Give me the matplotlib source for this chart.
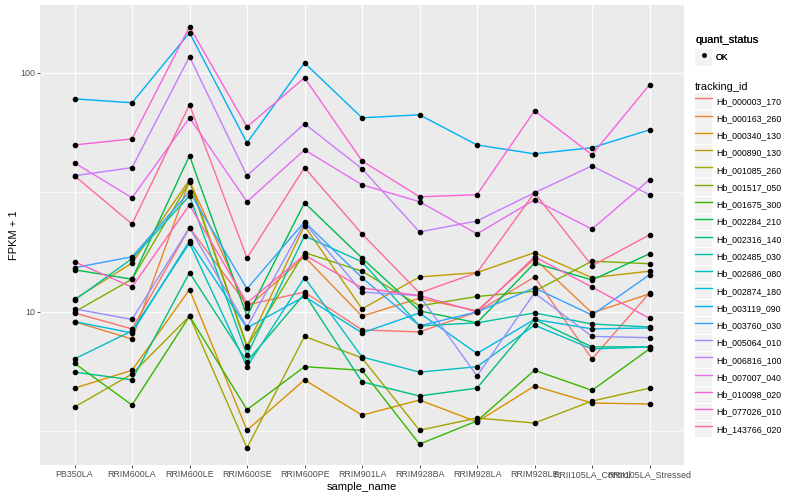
import matplotlib
matplotlib.use('Agg')
import matplotlib.pyplot as plt
from matplotlib.patches import Rectangle
from matplotlib.lines import Line2D

plt.rcParams['font.family'] = ['Liberation Sans', 'DejaVu Sans']

# samples on the x axis
samples = ['PB350LA', 'RRIM600LA', 'RRIM600LE', 'RRIM600SE', 'RRIM600PE', 'RRIM901LA',
           'RRIM928BA', 'RRIM928LA', 'RRIM928LE', 'RRII105LA_Control', 'RRII105LA_Stressed']

tracking_ids = ['Hb_000003_170', 'Hb_000163_260', 'Hb_000340_130', 'Hb_000890_130', 'Hb_001085_260',
                'Hb_001517_050', 'Hb_001675_300', 'Hb_002284_210', 'Hb_002316_140', 'Hb_002485_030',
                'Hb_002686_080', 'Hb_002874_180', 'Hb_003119_090', 'Hb_003760_030', 'Hb_005064_010',
                'Hb_006816_100', 'Hb_007007_040', 'Hb_010098_020', 'Hb_077026_010', 'Hb_143766_020']

# ggplot hue palette, 20 levels
colors = ['#F8766D', '#EA8331', '#D89000', '#C09B00', '#A3A500', '#7CAE00', '#39B600', '#00BB4E',
          '#00BF7D', '#00C1A3', '#00BFC4', '#00BAE0', '#00B0F6', '#35A2FF', '#9590FF', '#C77CFF',
          '#E76BF3', '#FA62DB', '#FF62BC', '#FF6C91']

# FPKM + 1 per gene
hb_000003_170 = [9.9, 8.49, 22.5, 10.7, 12.1, 8.41, 8.25, 10.0, 14.0, 6.36, 12.0]
hb_000163_260 = [9.1, 7.7, 35.3, 10.4, 17.0, 9.6, 11.4, 10.1, 16.7, 9.9, 11.9]
hb_000340_130 = [4.8, 5.7, 12.4, 3.2, 5.2, 3.7, 4.28, 3.47, 4.9, 4.16, 4.12]
hb_000890_130 = [11.3, 16.0, 35.7, 7.2, 22.9, 10.3, 14.0, 14.6, 17.7, 13.9, 14.8]
hb_001085_260 = [4.0, 5.5, 9.6, 2.7, 7.9, 6.42, 3.2, 3.6, 3.43, 4.24, 4.8]
hb_001517_050 = [10.0, 13.7, 35.0, 7.14, 17.7, 14.8, 10.6, 11.6, 12.2, 16.3, 15.9]
hb_001675_300 = [6.1, 4.08, 9.6, 3.9, 5.9, 5.7, 2.8, 3.5, 5.7, 4.7, 7.0]
hb_002284_210 = [15.0, 13.7, 45.0, 9.6, 28.6, 16.8, 10.1, 9.0, 16.0, 13.6, 17.5]
hb_002316_140 = [5.6, 5.2, 14.6, 6.2, 11.9, 5.1, 4.45, 4.8, 9.3, 7.14, 7.14]
hb_002485_030 = [11.2, 16.7, 30.6, 6.6, 20.8, 16.2, 8.74, 9.0, 9.9, 8.9, 8.65]
hb_002686_080 = [6.36, 8.33, 19.4, 5.9, 13.9, 6.48, 5.6, 5.9, 8.8, 7.0, 7.14]
hb_002874_180 = [9.1, 8.17, 19.8, 8.57, 11.6, 8.17, 9.9, 6.7, 9.3, 8.49, 8.57]
hb_003119_090 = [77.8, 74.9, 147.0, 50.9, 110.0, 64.8, 66.7, 49.9, 45.8, 48.6, 57.7]
hb_003760_030 = [15.3, 17.0, 31.8, 12.5, 23.8, 13.9, 8.74, 10.0, 12.6, 9.7, 14.3]
hb_005064_010 = [10.3, 9.3, 22.5, 8.65, 23.6, 12.1, 11.7, 5.4, 12.0, 7.9, 7.8]
hb_006816_100 = [37.1, 40.1, 116.7, 37.1, 61.2, 39.7, 21.6, 24.0, 31.5, 40.8, 30.9]
hb_007007_040 = [42.0, 30.0, 64.8, 28.9, 47.6, 34.0, 28.9, 21.2, 29.4, 22.2, 35.7]
hb_010098_020 = [49.9, 52.9, 155.8, 59.4, 95.3, 42.8, 30.3, 30.9, 69.3, 45.4, 89.1]
hb_077026_010 = [16.2, 12.7, 28.0, 10.9, 17.3, 12.6, 11.7, 10.0, 17.0, 12.7, 9.4]
hb_143766_020 = [37.1, 23.3, 73.5, 16.8, 40.1, 21.2, 12.0, 14.6, 31.5, 15.6, 21.0]

series = [hb_000003_170, hb_000163_260, hb_000340_130, hb_000890_130, hb_001085_260,
          hb_001517_050, hb_001675_300, hb_002284_210, hb_002316_140, hb_002485_030,
          hb_002686_080, hb_002874_180, hb_003119_090, hb_003760_030, hb_005064_010,
          hb_006816_100, hb_007007_040, hb_010098_020, hb_077026_010, hb_143766_020]

fig = plt.figure(figsize=(8, 5), dpi=100)
ax = fig.add_axes([0.05, 0.07, 0.805, 0.92])
ax.set_facecolor('#EBEBEB')
for s in ax.spines.values():
    s.set_visible(False)

x = list(range(len(samples)))
for vals, c in zip(series, colors):
    ax.plot(x, vals, color=c, linewidth=1.0, zorder=3)
for vals in series:
    ax.plot(x, vals, linestyle='none', marker='o', markersize=3, color='black', zorder=4)

ax.set_yscale('log')
ax.set_ylim(2.29, 192)
ax.set_xlim(-0.6, 10.6)
ax.set_xticks(x)
ax.set_xticklabels(samples)
ax.set_yticks([10, 100])
ax.set_yticklabels(['10', '100'])
ax.set_yticks([10 ** 0.5, 10 ** 1.5], minor=True)
ax.yaxis.set_minor_formatter(plt.NullFormatter())
ax.tick_params(axis='both', which='major', length=2, width=0.6, color='#333333',
               labelsize=6.4, labelcolor='#4D4D4D', pad=1.5)
ax.tick_params(axis='y', which='minor', length=0)
ax.grid(True, which='major', color='white', linewidth=0.9, zorder=0)
ax.grid(True, which='minor', axis='y', color='white', linewidth=0.45, zorder=0)
ax.set_axisbelow(True)

ax.set_xlabel('sample_name', fontsize=8, labelpad=2)
ax.set_ylabel('FPKM + 1', fontsize=8, labelpad=1)

# legends (grey key boxes like ggplot)
ok_handle = (Rectangle((0, 0), 1, 1, facecolor='#F2F2F2', edgecolor='none'),
             Line2D([], [], linestyle='none', marker='o', markersize=2.5, color='black'))
leg1 = fig.legend([ok_handle], ['OK'], title='quant_status', loc='upper left',
                  bbox_to_anchor=(0.869, 0.93), frameon=False, fontsize=6.3,
                  title_fontsize=7.9, handlelength=1.9, handleheight=2.49,
                  handletextpad=0.45, borderpad=0, borderaxespad=0, alignment='left')
handles = [(Rectangle((0, 0), 1, 1, facecolor='#F2F2F2', edgecolor='none'),
            Line2D([], [], color=c, linewidth=1.0)) for c in colors]
leg2 = fig.legend(handles, tracking_ids, title='tracking_id', loc='upper left',
                  bbox_to_anchor=(0.869, 0.836), frameon=False, fontsize=6.3,
                  title_fontsize=7.9, handlelength=1.9, handleheight=2.49,
                  labelspacing=0.11, handletextpad=0.45, borderpad=0, borderaxespad=0,
                  alignment='left')
fig.add_artist(leg1)

fig.savefig('out.png', dpi=100)
